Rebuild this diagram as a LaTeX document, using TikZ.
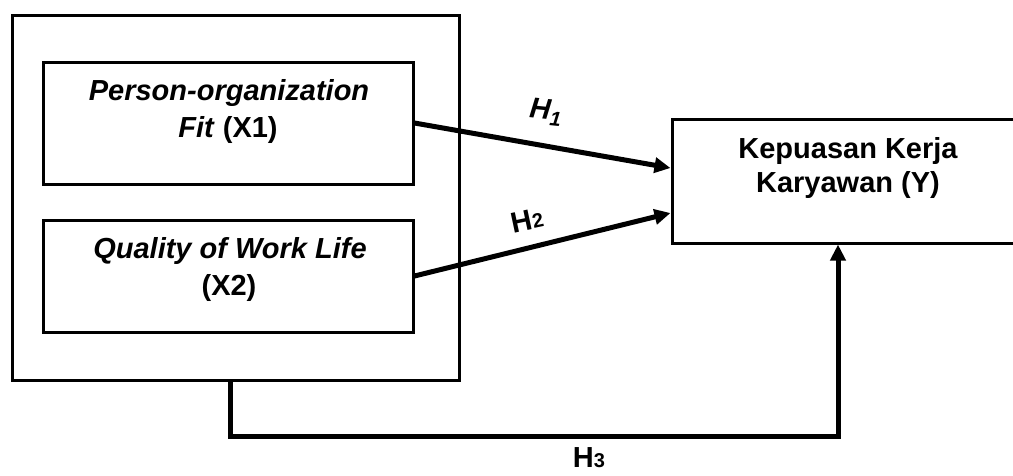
\documentclass[tikz,border=0pt]{standalone}
\usepackage{fontspec}
\setmainfont{Liberation Sans}
\usetikzlibrary{arrows.meta,calc}
\newcommand{\smallsub}[1]{{\fontsize{20}{20}\selectfont #1}}
\begin{document}
\begin{tikzpicture}[x=1pt,y=-1pt,
  boxline/.style={draw=black,line width=3pt,inner sep=0pt},
  lbl/.style={font=\fontsize{29}{35}\selectfont\bfseries,inner sep=0pt,anchor=base},
  conn/.style={line width=5pt,-{Triangle[length=16pt,width=15pt]}},
  hlab/.style={font=\fontsize{29}{35}\selectfont\bfseries,inner sep=0pt}]
\useasboundingbox (0,0) rectangle (1013,475);
% boxes
\node[boxline, minimum width=447pt, minimum height=365pt] (outer) at (235.5,197.5) {};
\node[boxline, minimum width=370pt, minimum height=122pt] (x1) at (228,123) {};
\node[boxline, minimum width=370pt, minimum height=112pt] (x2) at (228,276) {};
\node[boxline, minimum width=352pt, minimum height=124pt] (y) at (848,181) {};
% texts
\node[lbl] (x1a) at (229,100) {\textit{Person-organization}};
\node[lbl] (x1b) at (228,137) {\textit{Fit} (X1)};
\node[lbl] (x2a) at (230,258) {\textit{Quality of Work Life}};
\node[lbl] (x2b) at (229,295) {(X2)};
\node[lbl] (ya) at (848,158) {Kepuasan Kerja};
\node[lbl] (yb) at (848,192) {Karyawan (Y)};
% connectors
\draw[conn] (x1.east) -- ([yshift=13pt]y.west);
\draw[conn] (x2.east) -- ([yshift=-32pt]y.west);
\coordinate (h3l) at (230,436);
\coordinate (h3r) at (838,436);
\draw[conn] (outer.south -| h3l) -- (h3l) -- (h3r) -- (y.south -| h3r);
% labels
\node[hlab, rotate=-6] (h1) at (546,112) {\textit{H\textsubscript{1}}};
\node[hlab, rotate=12] (h2) at (527,220) {H\smallsub{2}};
\node[lbl] (h3) at (589,467) {H\smallsub{3}};
\end{tikzpicture}
\end{document}
